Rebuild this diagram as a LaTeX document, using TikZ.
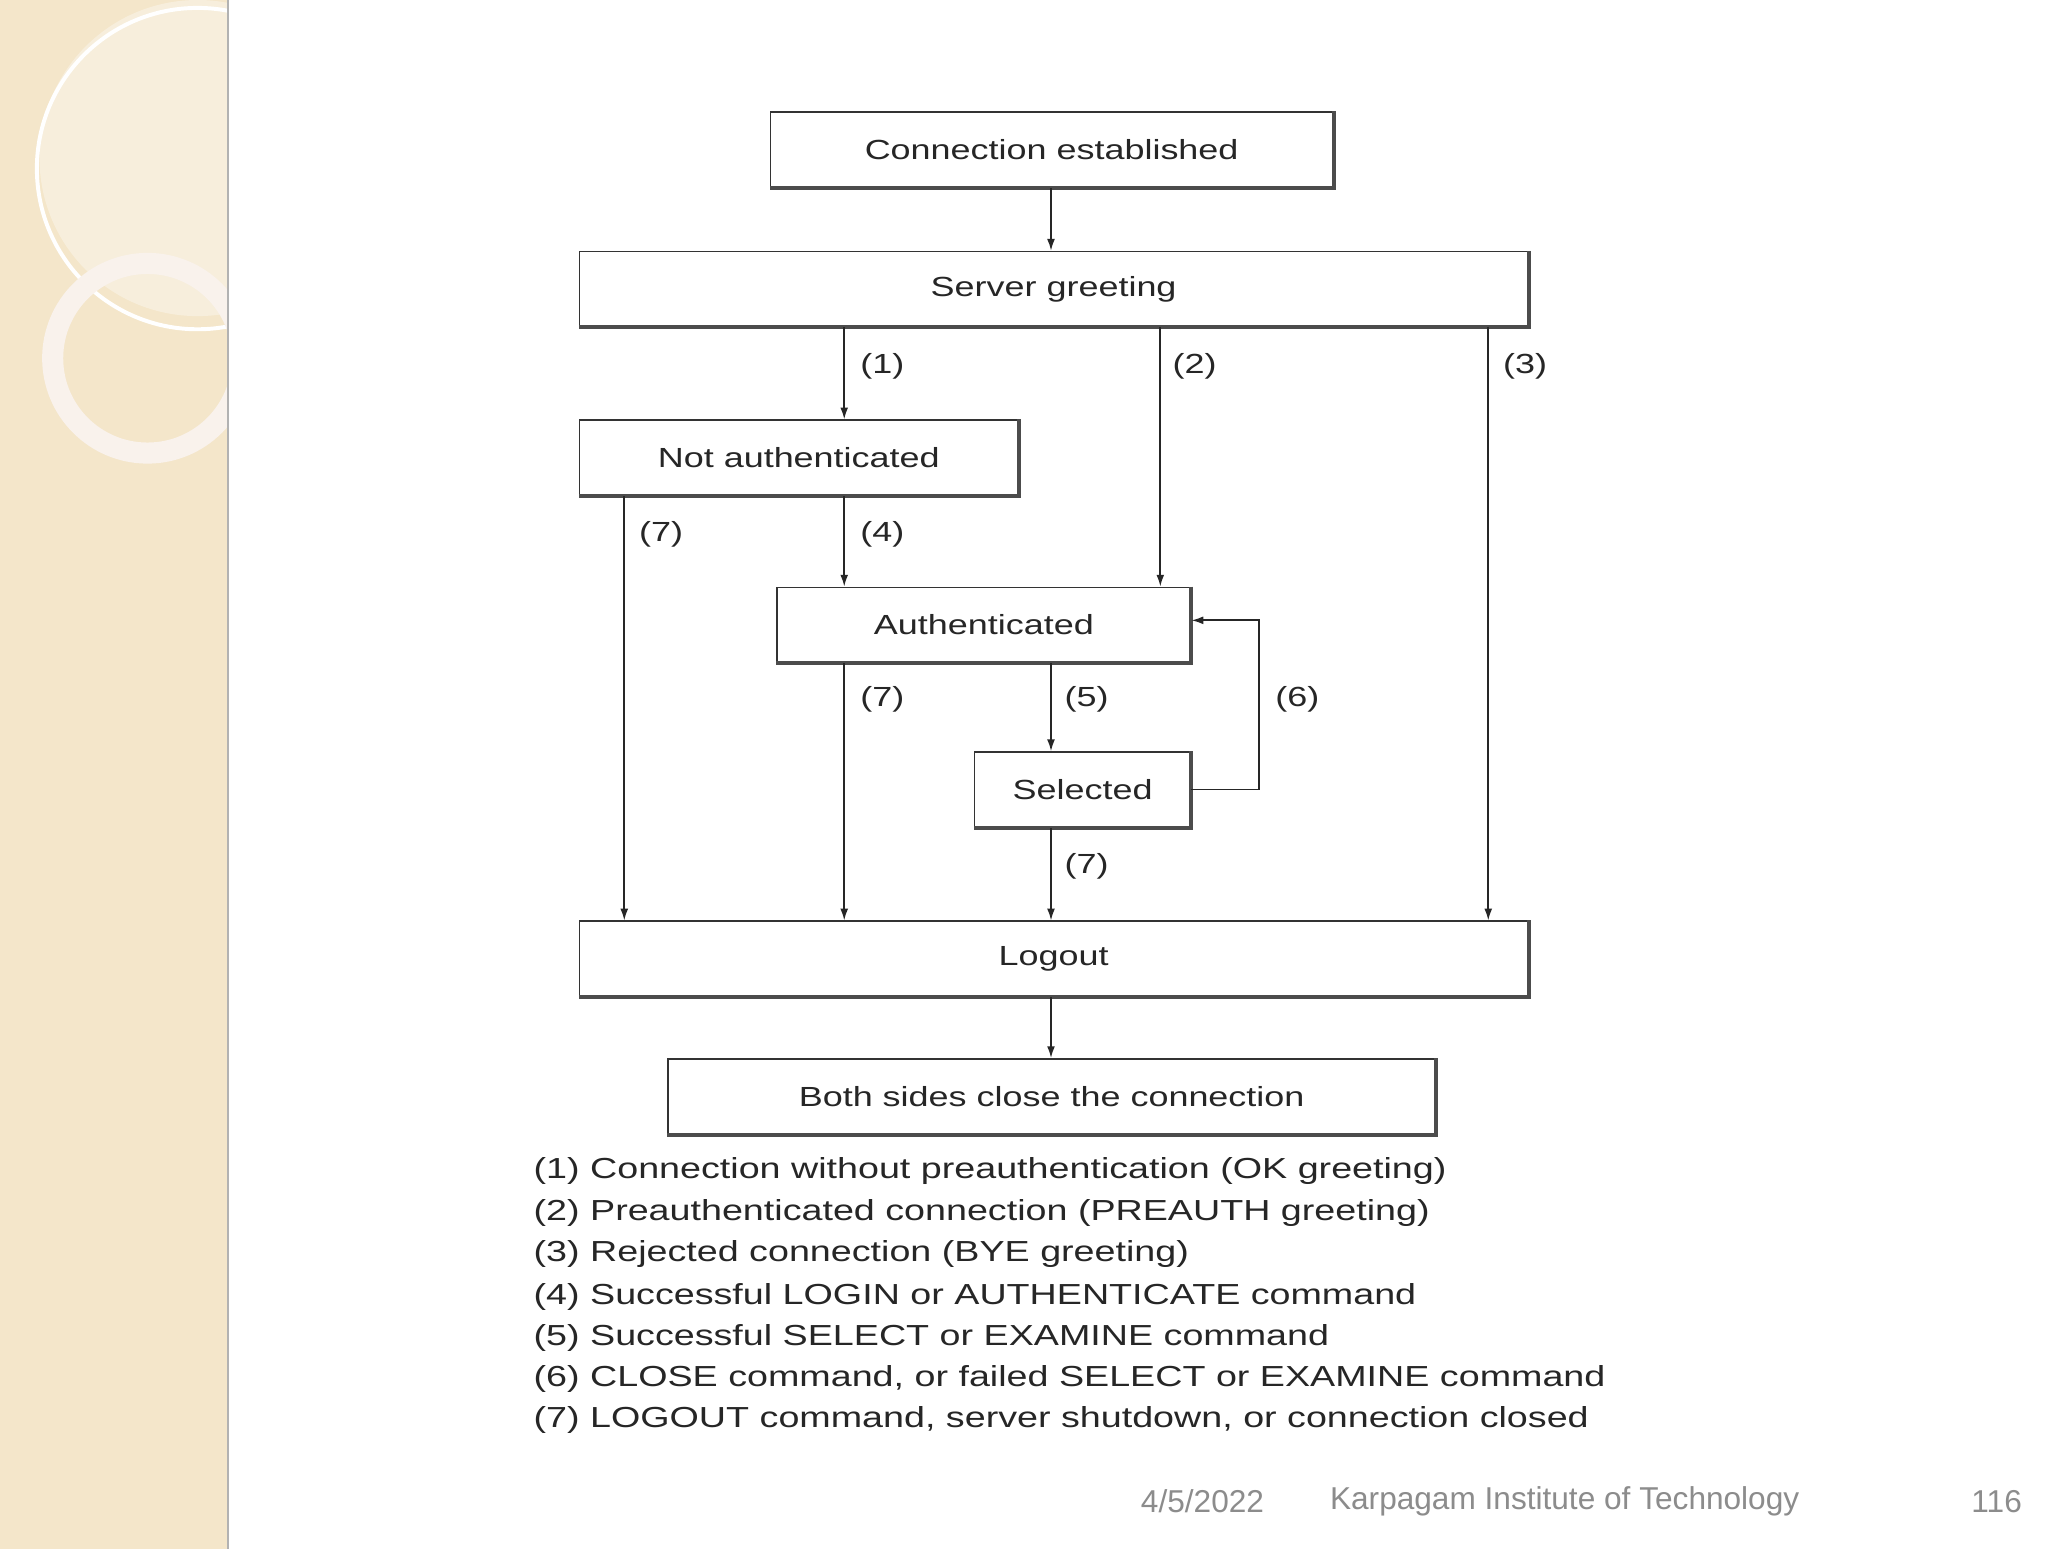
\documentclass[tikz,border=0pt]{standalone}
\usepackage{fontspec}
\setmainfont{Liberation Sans}
\newfontfamily\wide{Liberation Sans}[FakeStretch=1.3]
\usetikzlibrary{arrows.meta}
\begin{document}
\begin{tikzpicture}[x=1pt,y=-1pt,
  box/.style={draw=black!80,line width=1.2pt,minimum height=57pt,inner sep=0pt,font=\wide\fontsize{21}{24}\selectfont,text=black!85},
  arr/.style={line width=1.3pt,draw=black!85,-{Latex[length=9pt,width=6pt]}},
  lab/.style={font=\wide\fontsize{21}{24}\selectfont,text=black!85},
  leg/.style={font=\wide\fontsize{22}{25}\selectfont,text=black!85,anchor=west,inner sep=0pt}]
\useasboundingbox (0,0) rectangle (1555,1176);
\fill[white] (0,0) rectangle (1555,1176);
% left strip
\begin{scope}
\clip (0,0) rectangle (173,1176);
\fill[orange!25!yellow!30!brown!25] (0,0) rectangle (173,1176);
\fill[white,opacity=0.35] (150,120) circle (120);
\draw[white,line width=3pt] (150,128) circle (122);
\draw[white!90!brown,line width=16pt] (112,272) circle (72);
\end{scope}
\draw[black!30,line width=1pt] (173,0) -- (173,1176);
% boxes
\node[box,minimum width=427pt] (ce) at (798.5,113.5) {Connection established};
\node[box,minimum width=720pt] (sg) at (800,219.5) {Server greeting};
\node[box,minimum width=333pt] (na) at (606.5,347.5) {Not authenticated};
\node[box,minimum width=314pt] (au) at (747,474.5) {Authenticated};
\node[box,minimum width=164pt] (se) at (822,599.5) {Selected};
\node[box,minimum width=720pt] (lo) at (800,728) {Logout};
\node[box,minimum width=583pt] (bs) at (798.5,832.5) {Both sides close the connection};
\foreach \n in {ce,sg,na,au,se,lo,bs}{\draw[black!70,line width=3pt] (\n.north east) -- (\n.south east) -- (\n.south west);}
% arrows
\draw[arr] (ce.south -| 798,0) -- (sg.north -| 798,0);
\draw[arr] (sg.south -| 641,0) -- (na.north -| 641,0);
\draw[arr] (sg.south -| 881,0) -- (au.north -| 881,0);
\draw[arr] (sg.south -| 1130,0) -- (lo.north -| 1130,0);
\draw[arr] (na.south -| 474,0) -- (lo.north -| 474,0);
\draw[arr] (na.south -| 641,0) -- (au.north -| 641,0);
\draw[arr] (au.south -| 641,0) -- (lo.north -| 641,0);
\draw[arr] (au.south -| 798,0) -- (se.north -| 798,0);
\draw[arr] (se.south -| 798,0) -- (lo.north -| 798,0);
\draw[arr] (se.east) -- (956,599.5) -- (956,471) -- (au.east |- 0,471);
\draw[arr] (lo.south -| 798,0) -- (bs.north -| 798,0);
% labels
\node[lab] at (670,278) {(1)};
\node[lab] at (907,278) {(2)};
\node[lab] at (1158,278) {(3)};
\node[lab] at (502,406) {(7)};
\node[lab] at (670,406) {(4)};
\node[lab] at (670,531) {(7)};
\node[lab] at (825,531) {(5)};
\node[lab] at (985,531) {(6)};
\node[lab] at (825,658) {(7)};
% legend
\node[leg] at (405,889) {(1) Connection without preauthentication (OK greeting)};
\node[leg] at (405,921) {(2) Preauthenticated connection (PREAUTH greeting)};
\node[leg] at (405,952) {(3) Rejected connection (BYE greeting)};
\node[leg] at (405,985) {(4) Successful LOGIN or AUTHENTICATE command};
\node[leg] at (405,1016) {(5) Successful SELECT or EXAMINE command};
\node[leg] at (405,1047) {(6) CLOSE command, or failed SELECT or EXAMINE command};
\node[leg] at (405,1078) {(7) LOGOUT command, server shutdown, or connection closed};
% footer
\node[font=\fontsize{24}{28}\selectfont,text=black!45] at (913,1140) {4/5/2022};
\node[font=\fontsize{24}{28}\selectfont,text=black!45] at (1188,1140) {Karpagam Institute of Technology};
\node[font=\fontsize{24}{28}\selectfont,text=black!45] at (1516,1140) {116};
\end{tikzpicture}
\end{document}
